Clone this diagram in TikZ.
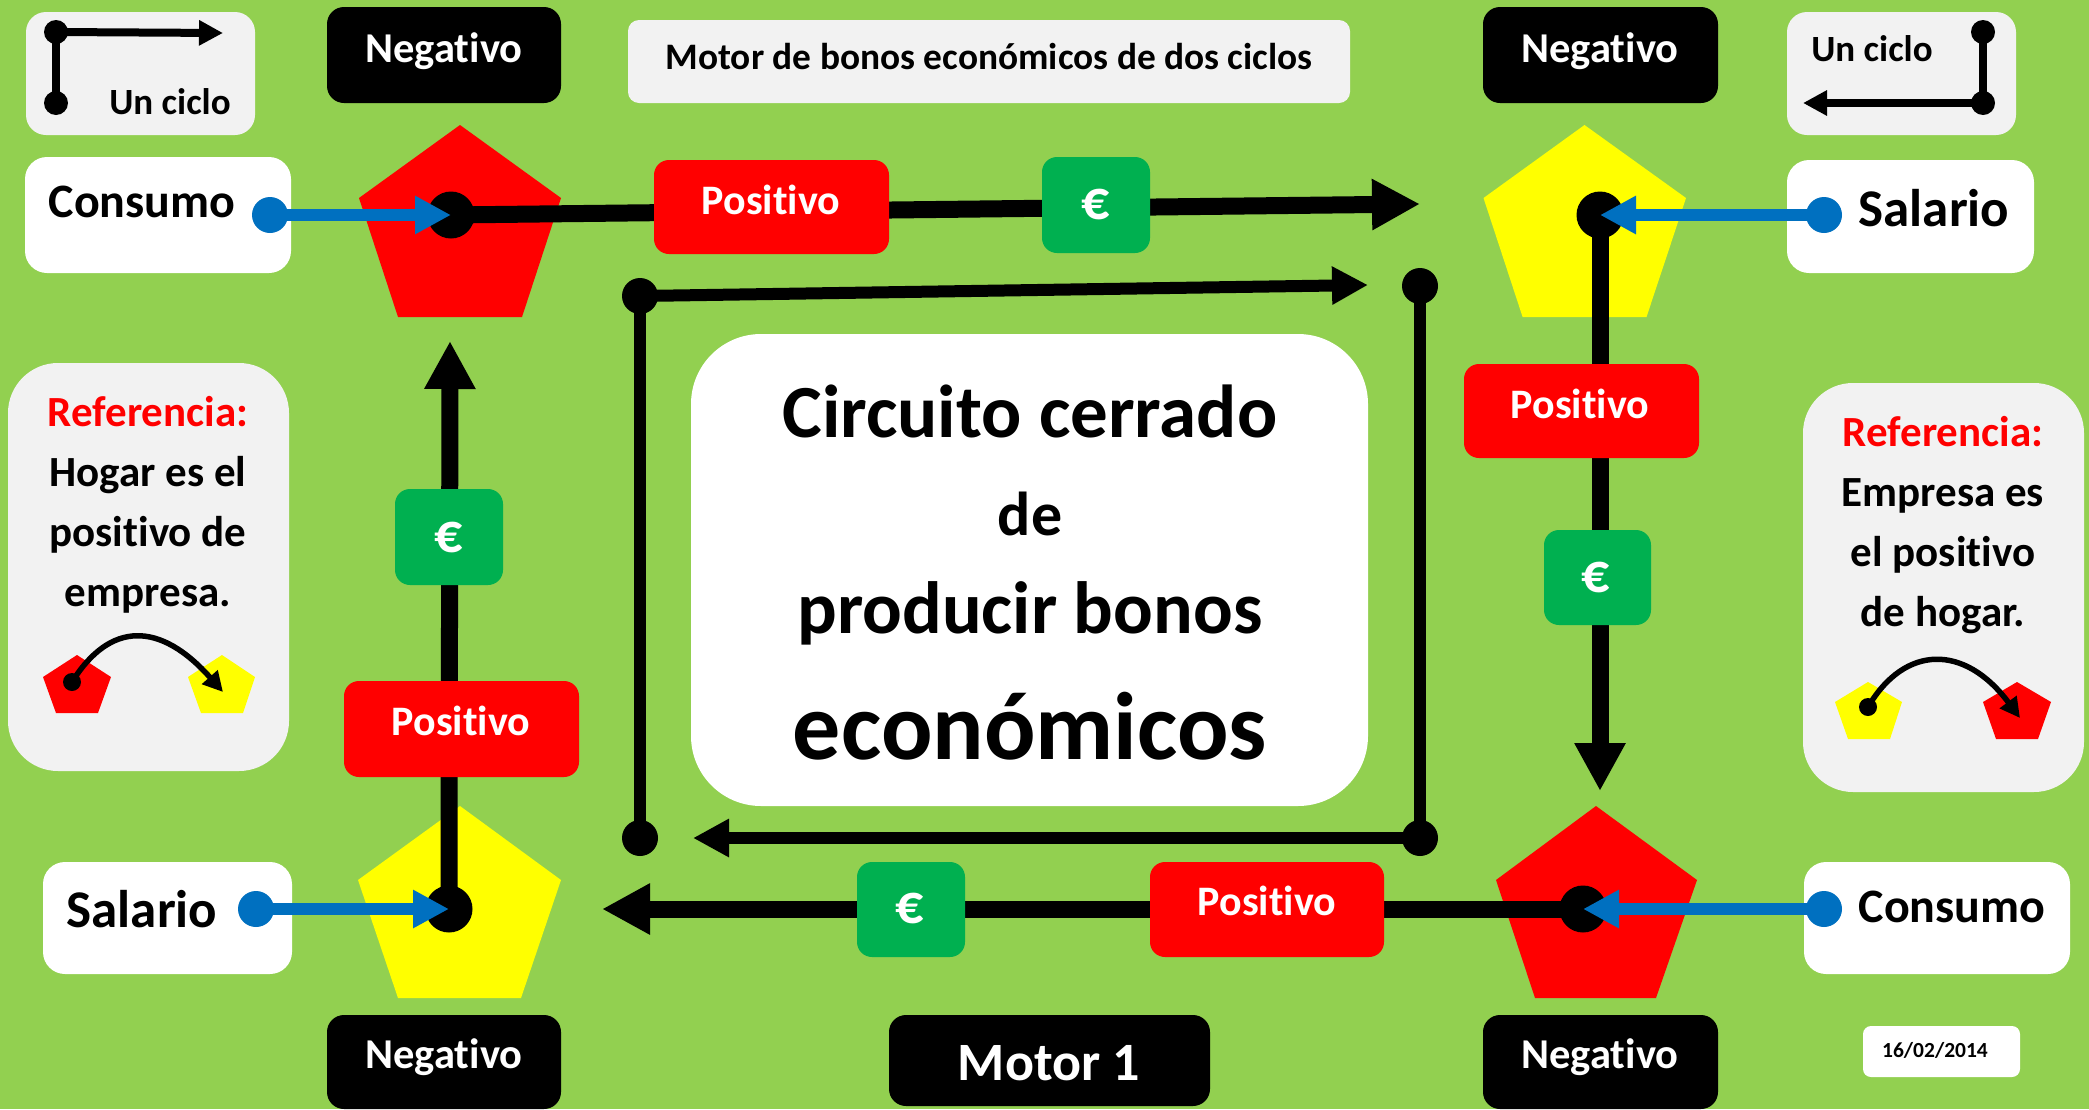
\documentclass[tikz,border=0pt]{standalone}
\usepackage{fontspec}
\setmainfont{Carlito}[Ligatures=NoCommon]
\usetikzlibrary{arrows.meta}
\definecolor{bggreen}{HTML}{92D050}
\definecolor{panel}{HTML}{F2F2F2}
\definecolor{eurogreen}{HTML}{00B050}
\definecolor{blueline}{HTML}{0070C0}
\definecolor{pentred}{HTML}{FF0000}
\definecolor{pentyellow}{HTML}{FFFF00}
\newcommand{\fs}[1]{\fontsize{#1}{#1}\selectfont\bfseries}
\newcommand{\boxnode}[9]{%
  \pgfmathsetmacro\bcx{(#3+#5)/2}\pgfmathsetmacro\bcy{(#4+#6)/2}%
  \pgfmathsetmacro\bw{#5-#3}\pgfmathsetmacro\bh{#6-#4}%
  \pgfmathsetmacro\brise{\bcy-(#8)}\pgfmathsetmacro\bshift{2*((#7)-\bcx)}%
  \node[#2,minimum width=\bw pt,minimum height=\bh pt] (#1) at (\bcx,\bcy)
    {\raisebox{\brise pt}[0pt][0pt]{\makebox[0pt][c]{\hspace*{\bshift pt}#9}}};}
\tikzset{
  basebox/.style={inner sep=0pt,outer sep=0pt,font=\bfseries},
  negbox/.style={basebox,fill=black,text=white,rounded corners=17pt,font=\fs{42.5}},
  posbox/.style={basebox,fill=pentred,text=white,rounded corners=15pt,font=\fs{42}},
  eurobox/.style={basebox,fill=eurogreen,text=white,rounded corners=15pt,font=\fs{56}},
  whitebox/.style={basebox,fill=white,text=black,rounded corners=22pt,font=\fs{48}},
  cyclebox/.style={basebox,fill=panel,text=black,rounded corners=20pt,font=\fs{37}},
  refbox/.style={basebox,fill=panel,text=black,rounded corners=50pt},
  bigdot/.style={circle,fill=black,inner sep=0pt,outer sep=0pt,minimum size=47pt},
  middot/.style={circle,fill=black,inner sep=0pt,outer sep=0pt,minimum size=36pt},
  smalldot/.style={circle,fill=black,inner sep=0pt,outer sep=0pt,minimum size=24pt},
  tinydot/.style={circle,fill=black,inner sep=0pt,outer sep=0pt,minimum size=18pt},
  bluedot/.style={circle,fill=blueline,inner sep=0pt,outer sep=0pt,minimum size=36pt},
  flow/.style={line width=17pt,draw=black,-{Triangle[length=48pt,width=48pt]}},
  inner flow/.style={line width=12pt,draw=black},
  inner arrow/.style={inner flow,-{Triangle[length=36pt,width=36pt]}},
  legend line/.style={line width=8pt,draw=black},
  legend arrow/.style={legend line,-{Triangle[length=24pt,width=24pt]}},
  blue arrow/.style={line width=12pt,draw=blueline,-{Triangle[length=36pt,width=36pt]}},
  curve arrow/.style={line width=5.5pt,draw=black,-{Triangle[length=20pt,width=20pt]}},
}
\begin{document}
\begin{tikzpicture}[x=1pt,y=-1pt]
\useasboundingbox (0,0) rectangle (2089,1109);
\fill[bggreen] (0,0) rectangle (2089,1109);
% pentagons
\fill[pentred] (460,125)--(561,198)--(522,317)--(398,317)--(359,198)--cycle;
\fill[pentyellow] (1584.5,125)--(1686,198)--(1646.5,317)--(1522.6,317)--(1483.5,198)--cycle;
\fill[pentred] (1596,806)--(1697,880)--(1656,998)--(1535,998)--(1496,880)--cycle;
\fill[pentyellow] (460,806)--(561,880)--(521,998)--(398,998)--(358,880)--cycle;
% main hubs and free ends
\node[bigdot] (hubTL) at (451,215) {};
\node[bigdot] (hubTR) at (1600,215) {};
\node[bigdot] (hubBR) at (1583,909) {};
\node[bigdot] (hubBL) at (449,909) {};
\coordinate (endT) at (1420,204);
\coordinate (endR) at (1600,791);
\coordinate (endB) at (602,909);
\coordinate (endL) at (450,341);
\draw[flow] (hubTL.center) -- (endT);
\draw[flow] (hubTR.center) -- (endR);
\draw[flow] (hubBR.center) -- (endB);
\draw[flow] (hubBL.center) -- (endL);
% inner cycle
\node[middot] (inTL) at (640,296) {};
\node[middot] (inBL) at (640,838) {};
\node[middot] (inTR) at (1420,286) {};
\node[middot] (inBR) at (1420,838) {};
\coordinate (inEndT) at (1368,285);
\coordinate (inEndB) at (693,838);
\draw[inner flow] (inBL.center) -- (inTL.center);
\draw[inner arrow] (inTL.center) -- (inEndT);
\draw[inner flow] (inTR.center) -- (inBR.center);
\draw[inner arrow] (inBR.center) -- (inEndB);
% boxes
\boxnode{negTL}{negbox}{327}{7}{561}{103}{444}{62}{Negativo}
\boxnode{negTR}{negbox}{1483}{7}{1718}{103}{1600}{62}{Negativo}
\boxnode{negBL}{negbox}{327}{1015}{561}{1109}{444}{1068}{Negativo}
\boxnode{negBR}{negbox}{1483}{1015}{1718}{1109}{1600}{1068}{Negativo}
\boxnode{title}{basebox,fill=panel,text=black,rounded corners=11pt,font=\fs{37.4}}{628}{20}{1350}{103}{989}{69}{Motor de bonos económicos de dos ciclos}
\boxnode{motor}{negbox,font=\fs{54}}{889}{1015}{1210}{1106}{1049}{1080}{Motor 1}
\boxnode{date}{basebox,fill=white,text=black,rounded corners=8pt,font=\fs{21.5}}{1863}{1026}{2020}{1077}{1935}{1057}{16/02/2014}
\boxnode{posT}{posbox}{654}{160}{889}{254}{771}{214}{Positivo}
\boxnode{posR}{posbox}{1464}{364}{1699}{458}{1580}{418}{Positivo}
\boxnode{posL}{posbox}{344}{681}{579}{777}{461}{735}{Positivo}
\boxnode{posB}{posbox}{1150}{862}{1384}{957}{1267}{915}{Positivo}
\boxnode{euroT}{eurobox}{1042}{157}{1150}{253}{1096}{219}{€}
\boxnode{euroR}{eurobox}{1544}{530}{1651}{625}{1596}{592}{€}
\boxnode{euroL}{eurobox}{395}{489}{503}{585}{449}{552}{€}
\boxnode{euroB}{eurobox}{857}{862}{965}{957}{910}{923}{€}
\boxnode{conTL}{whitebox}{25}{157}{291}{273}{142}{217}{Consumo}
\boxnode{salTR}{whitebox,font=\fs{53}}{1787}{160}{2034}{273}{1934}{226}{Salario}
\boxnode{salBL}{whitebox,font=\fs{53}}{43}{862}{292}{974}{142}{927}{Salario}
\boxnode{conBR}{whitebox}{1804}{862}{2070}{974}{1952}{922}{Consumo}
\boxnode{cycTL}{cyclebox}{26}{12}{255}{135}{170}{114}{Un ciclo}
\boxnode{cycTR}{cyclebox}{1787}{12}{2016}{135}{1872}{61}{Un ciclo}
\boxnode{centerbox}{basebox,fill=white,text=black,rounded corners=70pt,font=\fontsize{75}{97}\selectfont\bfseries}{691}{334}{1368}{806}{1030}{437}{\begin{tabular}[t]{@{}c@{}}Circuito cerrado\\[1pt]{\fs{62}de}\\[1pt]{\fs{74}producir bonos}\\[29pt]{\fs{96}económicos}\end{tabular}}
\boxnode{refL}{refbox,font=\fontsize{43}{60}\selectfont\bfseries}{8}{363}{289}{771}{148}{426}{\begin{tabular}[t]{@{}c@{}}\textcolor{pentred}{Referencia:}\\Hogar es el\\positivo de\\empresa.\end{tabular}}
\boxnode{refR}{refbox,font=\fontsize{43}{60}\selectfont\bfseries}{1803}{383}{2084}{792}{1943}{446}{\begin{tabular}[t]{@{}c@{}}\textcolor{pentred}{Referencia:}\\Empresa es\\el positivo\\de hogar.\end{tabular}}
% legends in the small panels
\node[smalldot] (lgTLa) at (56,32) {};
\node[smalldot] (lgTLb) at (56,103) {};
\coordinate (lgTLend) at (223,33);
\draw[legend line] (lgTLb.center) -- (lgTLa.center);
\draw[legend arrow] (lgTLa.center) -- (lgTLend);
\node[smalldot] (lgTRa) at (1983,32) {};
\node[smalldot] (lgTRb) at (1983,103) {};
\coordinate (lgTRend) at (1803,103);
\draw[legend line] (lgTRa.center) -- (lgTRb.center);
\draw[legend arrow] (lgTRb.center) -- (lgTRend);
% small pentagons in the reference panels
\fill[pentred] (77,655)--(111,677)--(98,713)--(56,713)--(43,677)--cycle;
\fill[pentyellow] (222,655)--(255,677)--(243,713)--(201,713)--(188,677)--cycle;
\fill[pentyellow] (1868,682)--(1902,702)--(1890,739)--(1848,739)--(1835,702)--cycle;
\fill[pentred] (2017,682)--(2051,702)--(2038,739)--(1996,739)--(1983,702)--cycle;
\node[tinydot] (refLdot) at (72,682) {};
\coordinate (refLend) at (223,692);
\draw[curve arrow] (refLdot.center) .. controls (110,621) and (160,621) .. (refLend);
\node[tinydot] (refRdot) at (1868,707) {};
\coordinate (refRend) at (2020,718);
\draw[curve arrow] (refRdot.center) .. controls (1905,644) and (1965,644) .. (refRend);
% blue inputs
\node[bluedot] (inTLb) at (270,215) {};
\node[bluedot] (inTRb) at (1824,215) {};
\node[bluedot] (inBRb) at (1824,909) {};
\node[bluedot] (inBLb) at (256,909) {};
\draw[blue arrow] (inTLb.center) -- (hubTL.center);
\draw[blue arrow] (inTRb.center) -- (hubTR.center);
\draw[blue arrow] (inBRb.center) -- (hubBR.center);
\draw[blue arrow] (inBLb.center) -- (hubBL.center);
\end{tikzpicture}
\end{document}
